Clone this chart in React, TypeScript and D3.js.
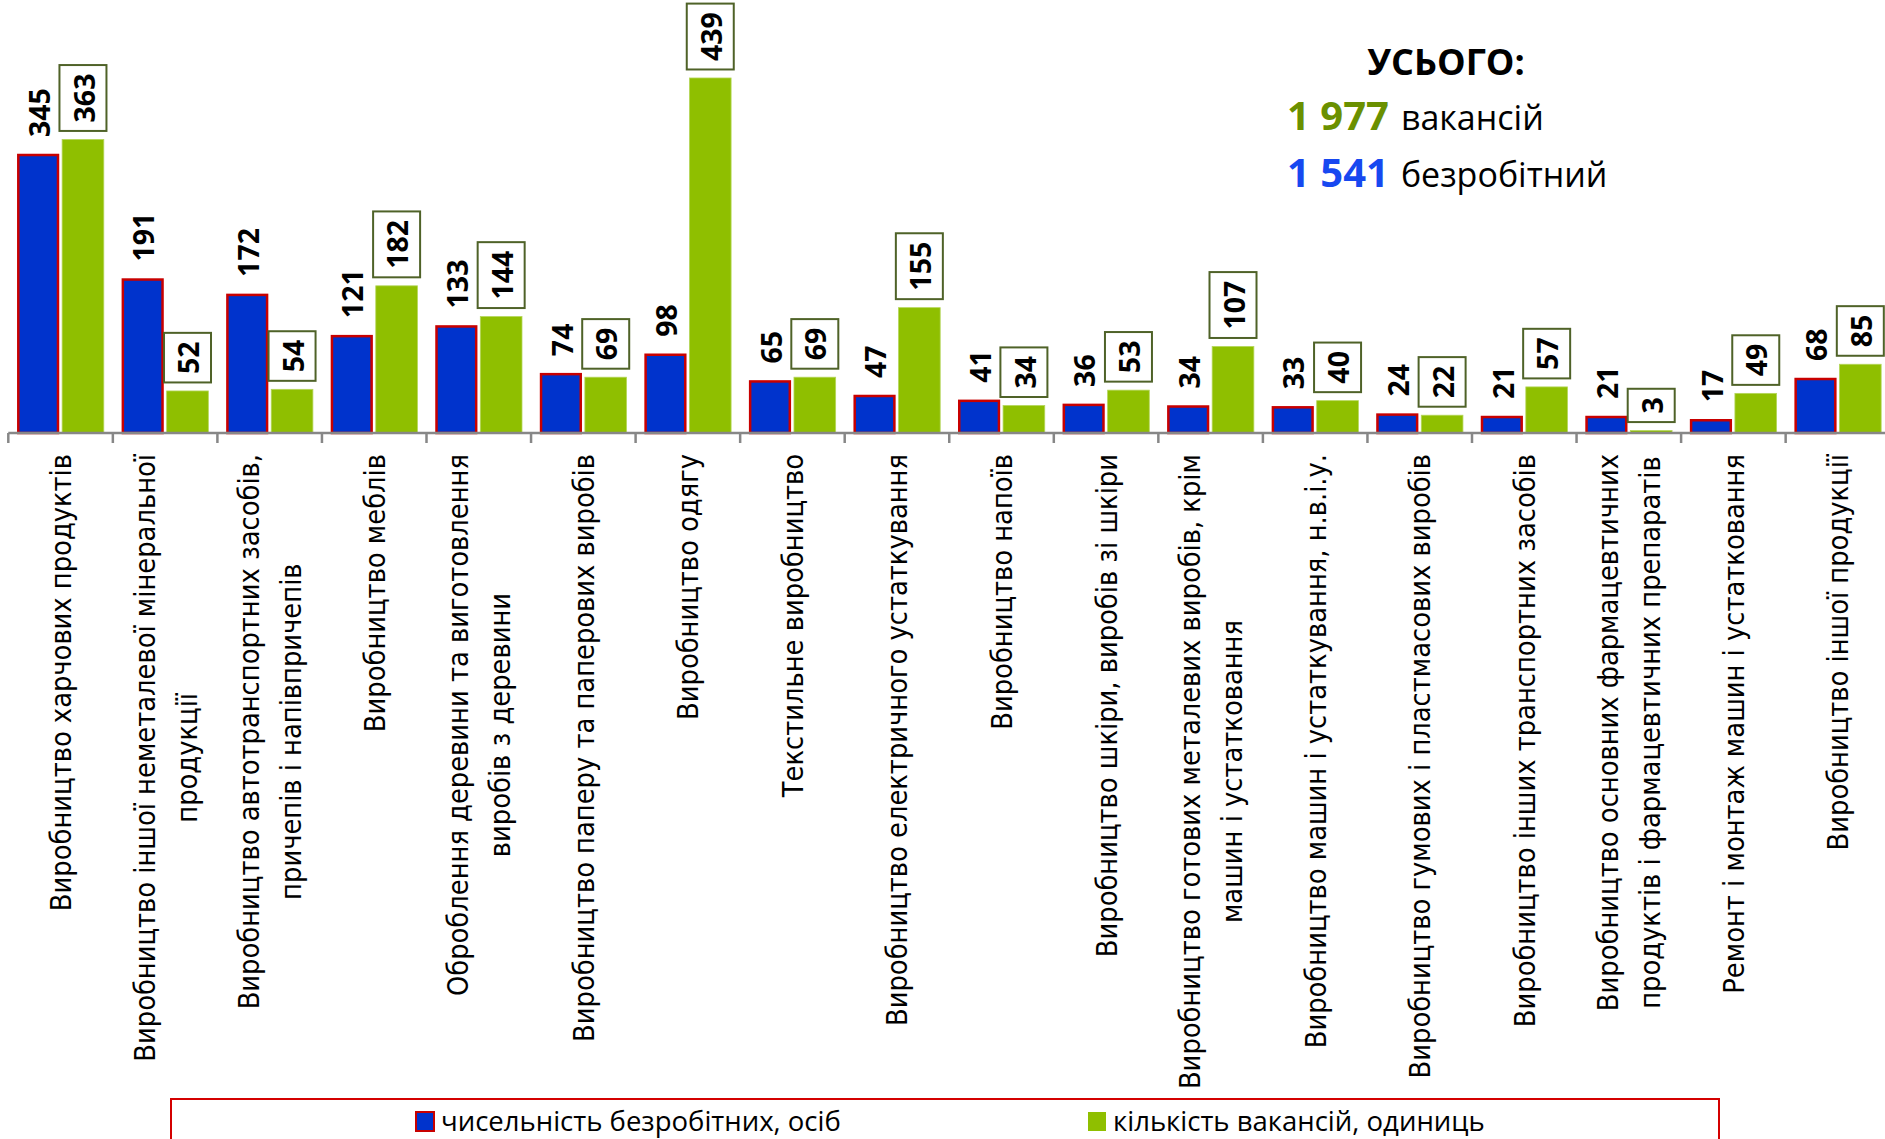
import React, { useEffect, useRef } from "react";
import * as d3 from "d3";

// categories (line breaks as in the original axis)
const categories = [
  "Виробництво харчових продуктів",
  "Виробництво іншої неметалевої мінеральної\nпродукції",
  "Виробництво автотранспортних засобів,\nпричепів і напівпричепів",
  "Виробництво меблів",
  "Оброблення деревини та виготовлення\nвиробів з деревини",
  "Виробництво паперу та паперових виробів",
  "Виробництво одягу",
  "Текстильне виробництво",
  "Виробництво електричного устаткування",
  "Виробництво напоїв",
  "Виробництво шкіри, виробів зі шкіри",
  "Виробництво готових металевих виробів, крім\nмашин і устатковання",
  "Виробництво машин і устаткування, н.в.і.у.",
  "Виробництво гумових і пластмасових виробів",
  "Виробництво інших транспортних засобів",
  "Виробництво основних фармацевтичних\nпродуктів і фармацевтичних препаратів",
  "Ремонт і монтаж машин і устатковання",
  "Виробництво іншої продукції",
];

const unemployed = [345, 191, 172, 121, 133, 74, 98, 65, 47, 41, 36, 34, 33, 24, 21, 21, 17, 68];
const vacancies = [363, 52, 54, 182, 144, 69, 439, 69, 155, 34, 53, 107, 40, 22, 57, 3, 49, 85];

const seriesNames = ["чисельність безробітних, осіб", "кількість вакансій, одиниць"];
const totalVacancies = "1 977";
const totalUnemployed = "1 541";

const W = 1885;
const H = 1139;

const BLUE = "#0033cc";
const RED = "#c80000";
const GREEN = "#8fbf00";
const BOX = "#4f6228";

const labelFont = "'Liberation Sans Narrow', 'DejaVu Sans Condensed', 'Open Sans', sans-serif";
const valueFont = "'Open Sans', 'Noto Sans', sans-serif";

function drawChart(node: SVGSVGElement) {
  const svg = d3.select(node);
  svg.selectAll("*").remove();

  const baseY = 433;
  const x = d3
    .scaleBand<number>()
    .domain(d3.range(categories.length))
    .range([8.3, 8.3 + categories.length * 104.55])
    .padding(0);
  const xs = d3.scaleBand<string>().domain(["u", "v"]).range([9, 95.5]).paddingInner(0.07);
  const y = d3.scaleLinear().domain([0, 500]).range([baseY, baseY - 404.35]);

  const bars = svg.append("g");

  // unemployed bars (blue with red outline)
  bars
    .selectAll("rect.u")
    .data(unemployed)
    .join("rect")
    .attr("class", "u")
    .attr("x", (d, i) => x(i)! + xs("u")! + 1)
    .attr("y", (d) => y(d) + 1)
    .attr("width", xs.bandwidth() - 2)
    .attr("height", (d) => baseY - y(d) - 1)
    .attr("fill", BLUE)
    .attr("stroke", RED)
    .attr("stroke-width", 2.5);

  // vacancy bars
  bars
    .selectAll("rect.v")
    .data(vacancies)
    .join("rect")
    .attr("class", "v")
    .attr("x", (d, i) => x(i)! + xs("v")!)
    .attr("y", (d) => y(d))
    .attr("width", xs.bandwidth())
    .attr("height", (d) => baseY - y(d))
    .attr("fill", GREEN)
    .attr("stroke", "#b5d65a")
    .attr("stroke-width", 0.8);

  // axis
  const axis = svg.append("g").attr("stroke", "#878787").attr("stroke-width", 2.5);
  axis.append("line").attr("x1", x(0)!).attr("x2", W).attr("y1", baseY).attr("y2", baseY);
  axis
    .selectAll("line.tick")
    .data(d3.range(categories.length + 1))
    .join("line")
    .attr("class", "tick")
    .attr("x1", (i) => x(0)! + i * x.step())
    .attr("x2", (i) => x(0)! + i * x.step())
    .attr("y1", baseY)
    .attr("y2", baseY + 10);

  // value labels, rotated
  const valFs = 28.5;
  const labelGap = 17;

  unemployed.forEach((v, i) => {
    const cx = x(i)! + xs("u")! + xs.bandwidth() / 2;
    svg
      .append("text")
      .attr("transform", `translate(${cx + 1.5 + valFs * 0.357},${y(v) - labelGap}) rotate(-90)`)
      .attr("font-family", valueFont)
      .attr("font-weight", 700)
      .attr("font-size", valFs)
      .attr("fill", "#000")
      .text(v);
  });

  vacancies.forEach((v, i) => {
    const cx = x(i)! + xs("v")! + xs.bandwidth() / 2;
    const g = svg.append("g").attr("transform", `translate(${cx},${y(v) - labelGap}) rotate(-90)`);
    const rect = g.append("rect").attr("fill", "#fff").attr("stroke", BOX).attr("stroke-width", 2);
    const t = g
      .append("text")
      .attr("x", 0)
      .attr("y", 1.5 + valFs * 0.357)
      .attr("font-family", valueFont)
      .attr("font-weight", 700)
      .attr("font-size", valFs)
      .attr("fill", "#000")
      .text(v);
    const len = (t.node() as SVGTextElement).getComputedTextLength();
    rect
      .attr("x", -8.5)
      .attr("y", -23.5)
      .attr("width", len + 17)
      .attr("height", 47);
  });

  // category labels
  const catFs = 28.7;
  const lineGap = 42;
  const catTop = 454;
  categories.forEach((c, i) => {
    const lines = c.split("\n");
    const cx = x(i)! + x.bandwidth() / 2 + 3;
    const g = svg.append("g").attr("font-family", labelFont).attr("font-size", catFs).attr("fill", "#000");
    const texts = lines.map((l, j) =>
      g
        .append("text")
        .attr("text-anchor", "middle")
        .attr("y", (j - (lines.length - 1) / 2) * lineGap + catFs * 0.26)
        .text(l)
    );
    const maxLen = d3.max(texts, (t) => (t.node() as SVGTextElement).getComputedTextLength()) || 0;
    texts.forEach((t) => t.attr("x", -maxLen / 2));
    g.attr("transform", `translate(${cx},${catTop}) rotate(-90)`);
  });

  // totals
  const tot = svg.append("g").attr("font-family", valueFont);
  tot
    .append("text")
    .attr("x", 1446)
    .attr("y", 75)
    .attr("text-anchor", "middle")
    .attr("font-weight", 700)
    .attr("font-size", 36)
    .text("УСЬОГО:");
  const row1 = tot.append("text").attr("x", 1287).attr("y", 130).attr("font-size", 34);
  row1.append("tspan").attr("font-weight", 700).attr("font-size", 40).attr("fill", "#6a9000").text(totalVacancies);
  row1.append("tspan").attr("dx", 12).text("вакансій");
  const row2 = tot.append("text").attr("x", 1287).attr("y", 187).attr("font-size", 34);
  row2.append("tspan").attr("font-weight", 700).attr("font-size", 40).attr("fill", "#1748f0").text(totalUnemployed);
  row2.append("tspan").attr("dx", 12).text("безробітний");

  // legend
  const lg = svg.append("g");
  lg.append("rect")
    .attr("x", 171)
    .attr("y", 1099)
    .attr("width", 1548)
    .attr("height", 80)
    .attr("fill", "none")
    .attr("stroke", "#d40000")
    .attr("stroke-width", 2);
  const legendX = [416, 1088];
  const legendFill = [BLUE, GREEN];
  seriesNames.forEach((s, i) => {
    lg.append("rect")
      .attr("x", legendX[i])
      .attr("y", 1112)
      .attr("width", 18)
      .attr("height", 19)
      .attr("fill", legendFill[i])
      .attr("stroke", i === 0 ? RED : "none")
      .attr("stroke-width", 2);
    lg.append("text")
      .attr("x", legendX[i] + 25)
      .attr("y", 1131)
      .attr("font-family", valueFont)
      .attr("font-size", 27.5)
      .attr("fill", "#000")
      .text(s);
  });
}

export default function App() {
  const ref = useRef<SVGSVGElement>(null);
  useEffect(() => {
    document.body.style.margin = "0";
    if (ref.current) drawChart(ref.current);
  }, []);
  return (
    <svg ref={ref} width={W} height={H} style={{ display: "block", background: "#fff" }} />
  );
}
